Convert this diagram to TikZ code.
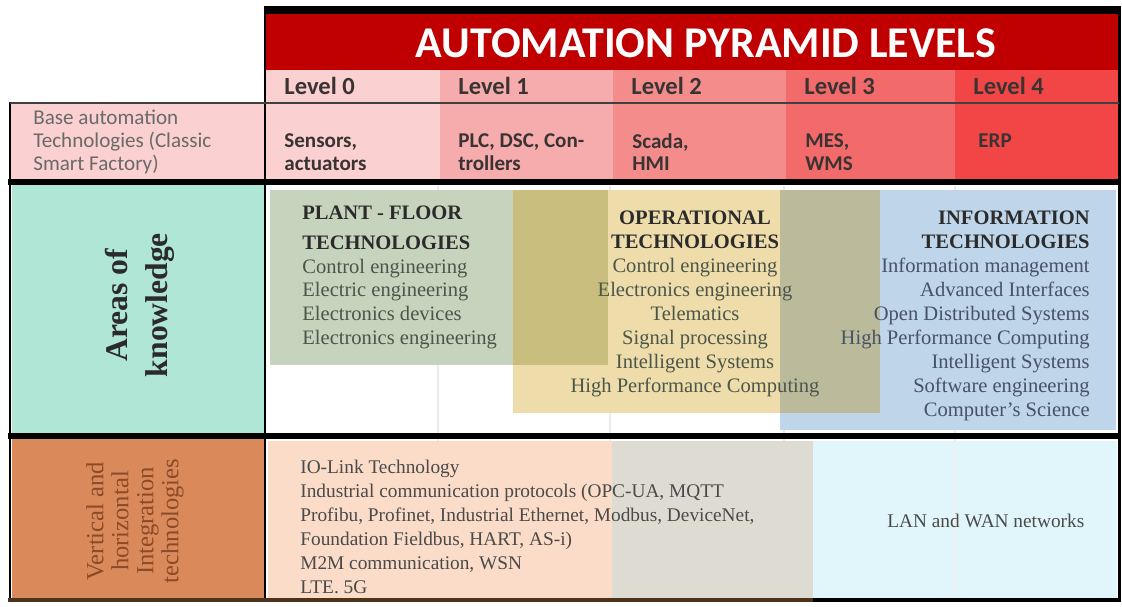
\documentclass[tikz,border=0pt]{standalone}
\usepackage{fontspec}
\setmainfont{Liberation Serif}
\newfontfamily\calib{Carlito}
\usetikzlibrary{positioning}

\definecolor{titleRed}{HTML}{C00000}
\definecolor{lvlZero}{HTML}{FAD0D0}
\definecolor{lvlOne}{HTML}{F6ACAC}
\definecolor{lvlTwo}{HTML}{F48C8C}
\definecolor{lvlThree}{HTML}{F26A6A}
\definecolor{lvlFour}{HTML}{F24646}
\definecolor{baseGray}{HTML}{6A6A6A}
\definecolor{lvlDark}{HTML}{3A3333}
\definecolor{mintFill}{HTML}{B0E6D6}
\definecolor{plantGreen}{HTML}{C6D4BD}
\definecolor{olive}{HTML}{C9BE7E}
\definecolor{operTan}{HTML}{EEDDAA}
\definecolor{tanBlue}{HTML}{BBBB9C}
\definecolor{infoBlue}{HTML}{BFD5EA}
\definecolor{peach}{HTML}{FADCC8}
\definecolor{warmGray}{HTML}{DEDCD2}
\definecolor{paleCyan}{HTML}{E0F6FA}
\definecolor{integOrange}{HTML}{DA8A5A}
\definecolor{integBrown}{HTML}{8B4A28}
\definecolor{headDark}{HTML}{2B2B2B}
\definecolor{plantText}{HTML}{4C554A}
\definecolor{infoText}{HTML}{465266}
\definecolor{netText}{HTML}{4A4A4A}

\begin{document}
\begin{tikzpicture}
[x=0.02cm, y=-0.02cm,
 frameLine/.style={line width=#1, black},
 levelText/.style={anchor=west, inner sep=0pt, text=lvlDark, font=\calib\bfseries\fontsize{14}{15}\selectfont},
 rowText/.style={anchor=north west, inner sep=0pt, align=left, text=lvlDark, font=\calib\bfseries\fontsize{12}{13}\selectfont},
 areaText/.style={inner sep=0pt, font=\fontsize{11.7}{13.6}\selectfont},
 netDecorate/.style={inner sep=0pt, text=netText, font=\fontsize{11}{13.6}\selectfont}]

\useasboundingbox (0,0) rectangle (1122,607);

% header
\fill[titleRed] (266,10) rectangle (1119,70);
\node (title) at (706,43) [text=white, font=\calib\bfseries\fontsize{25}{28}\selectfont] {AUTOMATION PYRAMID LEVELS};
\foreach \i/\xa/\xb/\c in {0/266/440/lvlZero, 1/440/613/lvlOne, 2/613/786/lvlTwo, 3/786/955/lvlThree, 4/955/1119/lvlFour}
{
    \fill[\c] (\xa,70) rectangle (\xb,182);
    \node (L\i) at (\xa+18,86) [levelText] {Level \i};
}
\node (S0) at (284,133) [rowText] {Sensors,\\actuators};
\node (S1) at (458,133) [rowText] {PLC, DSC, Con-\\trollers};
\node (S2) at (632,133) [rowText] {Scada,\\HMI};
\node (S3) at (805,133) [rowText] {MES,\\WMS};
\node (S4) at (978,133) [rowText] {ERP};

\fill[lvlZero] (10,103) rectangle (265,182);
\node (base) at (33,110) [rowText, text=baseGray, font=\calib\fontsize{12}{13}\selectfont] {Base automation\\Technologies (Classic\\Smart Factory)};

% faint grid
\foreach \x in {438,610,784,955}
    \draw[black!8, line width=1pt] (\x,186) -- (\x,598);

% areas of knowledge
\fill[mintFill] (12,185) rectangle (264,433);
\node (areas) at (140,305) [rotate=90, align=center, inner sep=0pt, text=headDark, font=\bfseries\fontsize{18}{23}\selectfont] {Areas of\\knowledge};

\fill[plantGreen] (270,190) rectangle (513,365);
\fill[olive] (513,190) rectangle (608,365);
\fill[operTan] (513,365) rectangle (608,413);
\fill[operTan] (608,190) rectangle (780,413);
\fill[tanBlue] (780,190) rectangle (880,413);
\fill[infoBlue] (880,190) rectangle (1116,413);
\fill[infoBlue] (780,413) rectangle (1116,430);

\node (plant) at (302,206) [areaText, anchor=north west, align=left, text=plantText]
    {\textcolor{headDark}{\textbf{PLANT - FLOOR}}\\[3pt]\textcolor{headDark}{\textbf{TECHNOLOGIES}}\\Control engineering\\Electric engineering\\Electronics devices\\Electronics engineering};
\node (oper) at (695,211) [areaText, anchor=north, align=center, text=plantText]
    {\textcolor{headDark}{\textbf{OPERATIONAL}}\\\textcolor{headDark}{\textbf{TECHNOLOGIES}}\\Control engineering\\Electronics engineering\\Telematics\\Signal processing\\Intelligent Systems\\High Performance Computing};
\node (info) at (1090,211) [areaText, anchor=north east, align=right, text=infoText]
    {\textcolor{headDark}{\textbf{INFORMATION}}\\\textcolor{headDark}{\textbf{TECHNOLOGIES}}\\Information management\\Advanced Interfaces\\Open Distributed Systems\\High Performance Computing\\Intelligent Systems\\Software engineering\\Computer's Science};

% integration technologies
\fill[integOrange] (12,439) rectangle (264,598);
\node (integ) at (135,521) [rotate=90, align=center, inner sep=0pt, text=integBrown, font=\fontsize{14}{14.2}\selectfont] {Vertical and\\horizontal\\Integration\\technologies};

\fill[peach] (268,441) rectangle (612,598);
\fill[warmGray] (612,441) rectangle (813,598);
\fill[paleCyan] (813,441) rectangle (1117,598);
\draw[black!6, line width=1pt] (955,441) -- (955,598);

\node (proto) at (300,460) [netDecorate, anchor=north west, align=left]
    {IO-Link Technology\\Industrial communication protocols (OPC-UA, MQTT\\Profibu, Profinet, Industrial Ethernet, Modbus, DeviceNet,\\Foundation Fieldbus, HART, AS-i)\\M2M communication, WSN\\LTE. 5G};
\node (lan) at (887,521) [netDecorate, anchor=west] {LAN and WAN networks};

% frame
\draw[frameLine=4.5pt] (264,10) -- (1121,10);
\draw[frameLine=1.7pt] (1119,8) -- (1119,602);
\draw[frameLine=1.7pt] (265,8) -- (265,602);
\draw[frameLine=1.7pt] (10,102) -- (10,602);
\draw[line width=1pt, black!75] (10,103) -- (1119,103);
\draw[frameLine=3.4pt] (8,182) -- (1121,182);
\draw[frameLine=3.4pt] (8,436) -- (1121,436);
\draw[line width=2.8pt, black!60!brown] (8,600) -- (813,600);
\draw[frameLine=2.8pt] (813,600) -- (1121,600);
\end{tikzpicture}
\end{document}
